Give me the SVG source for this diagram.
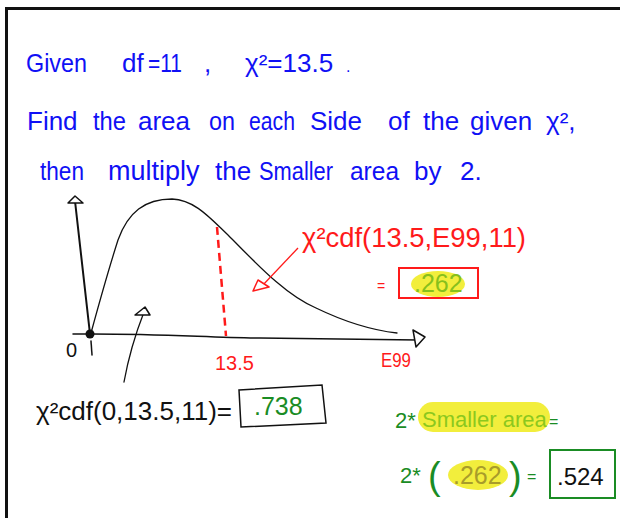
<svg xmlns="http://www.w3.org/2000/svg" width="620" height="518" viewBox="0 0 620 518">
<style>
text{font-family:"Liberation Sans","DejaVu Sans",sans-serif}
.b{fill:#1010f5;font-size:26px}
.r{fill:#ff1a1a}
.k{fill:#111}
.g{fill:#1a8c24}
.ln{fill:none;stroke:#111;stroke-linecap:round;stroke-linejoin:round}
.ah{fill:#fff;stroke:#111;stroke-width:1.5;stroke-linejoin:round}
</style>
<rect width="620" height="518" fill="#fff"/>
<path d="M6.5,518 V8.5 H620" fill="none" stroke="#111" stroke-width="3"/>

<g id="line1">
<text class="b" x="26" y="72" textLength="61" lengthAdjust="spacingAndGlyphs">Given</text>
<text class="b" x="122" y="72">df</text>
<text class="b" x="148" y="72" textLength="34" lengthAdjust="spacingAndGlyphs">=11</text>
<text class="b" x="204" y="72">,</text>
<text class="b" x="245" y="72">χ²=13.5</text>
<text class="b" x="346" y="72" style="font-size:16px">.</text>
</g>
<g id="line2">
<text class="b" x="27" y="130">Find</text>
<text class="b" x="93" y="130" textLength="33" lengthAdjust="spacingAndGlyphs">the</text>
<text class="b" x="138" y="130">area</text>
<text class="b" x="209" y="130" textLength="26" lengthAdjust="spacingAndGlyphs">on</text>
<text class="b" x="249" y="130" textLength="46" lengthAdjust="spacingAndGlyphs">each</text>
<text class="b" x="310" y="130">Side</text>
<text class="b" x="388" y="130">of</text>
<text class="b" x="423" y="130">the</text>
<text class="b" x="470" y="130">given</text>
<text class="b" x="546" y="130">χ²,</text>
</g>
<g id="line3">
<text class="b" x="40" y="180" textLength="44" lengthAdjust="spacingAndGlyphs">then</text>
<text class="b" x="108" y="180" style="font-size:27px">multiply</text>
<text class="b" x="215" y="180">the</text>
<text class="b" x="259" y="180" textLength="74" lengthAdjust="spacingAndGlyphs">Smaller</text>
<text class="b" x="350" y="180" textLength="49" lengthAdjust="spacingAndGlyphs">area</text>
<text class="b" x="414" y="180">by</text>
<text class="b" x="460" y="180">2.</text>
</g>

<g id="graph">
<path class="ln" stroke-width="2" d="M90,334 L75,201"/>
<polygon class="ah" points="68,203 75,196 83,203"/>
<path class="ln" stroke-width="1.5" d="M73,334 C150,333 200,337 260,338 C330,339 380,340 418,340"/>
<polygon class="ah" points="413,330 425,337 416,347"/>
<path class="ln" stroke-width="1.3" d="M91,333 C100,300 110,265 118,240 C128,212 145,199 172,199 C195,200 210,218 228,235 C255,262 285,295 316,308 C345,322 370,330 397,333"/>
<circle cx="90" cy="334" r="4.5" fill="#111"/>
<text class="k" x="66" y="357" style="font-size:20px">0</text>
<path class="ln" stroke-width="1.5" d="M91,341 L92,355"/>
<path d="M217,227 L226,336" stroke="#ff1a1a" stroke-width="2.5" stroke-dasharray="8 5" fill="none"/>
<text class="r" x="215" y="370" style="font-size:20px">13.5</text>
<text class="r" x="381" y="367" style="font-size:20px" textLength="30" lengthAdjust="spacingAndGlyphs">E99</text>
</g>

<g id="right-area">
<text class="r" x="302" y="247" style="font-size:28px" textLength="224" lengthAdjust="spacingAndGlyphs">χ²cdf(13.5,E99,11)</text>
<text class="r" x="377" y="291" style="font-size:14px">=</text>
<ellipse cx="438" cy="284" rx="27" ry="13" fill="#f2ee3c"/>
<rect x="399" y="268" width="79" height="30" fill="none" stroke="#ff1a1a" stroke-width="2"/>
<text x="414" y="292" style="font-size:25px;fill:#86c01c">.262</text>
</g>

<g id="left-area">
<text class="k" x="36" y="420" style="font-size:26px">χ²cdf(0,13.5,11)=</text>
<polygon points="239,390 322,385 326,423 241,427" fill="none" stroke="#111" stroke-width="1.5"/>
<text class="g" x="254" y="415" style="font-size:25px">.738</text>
</g>

<g id="result">
<rect x="418" y="402" width="132" height="30" rx="15" fill="#f2ee3c"/>
<text class="g" x="395" y="428" style="font-size:22px">2*</text>
<text x="422" y="427" style="font-size:22px;fill:#8cc81e">Smaller area</text>
<text class="g" x="549" y="427" style="font-size:16px">=</text>
<ellipse cx="478" cy="475" rx="30" ry="15" fill="#f2ee3c"/>
<text class="g" x="400" y="483" style="font-size:22px">2*</text>
<text class="g" x="428" y="489" style="font-size:38px">(</text>
<text x="453" y="484" style="font-size:25px;fill:#a89c2a">.262</text>
<text class="g" x="509" y="489" style="font-size:38px">)</text>
<text class="g" x="527" y="482" style="font-size:16px">=</text>
<rect x="550" y="450" width="65" height="48" fill="none" stroke="#1a8c24" stroke-width="2"/>
<text class="k" x="557" y="485" style="font-size:24px">.524</text>
</g>

<g id="connectors">
<path d="M298,248 L262,286" stroke="#ff1a1a" stroke-width="1.3" fill="none"/>
<polygon points="253,291 258,280 269,287" fill="#fff" stroke="#ff1a1a" stroke-width="1.5" stroke-linejoin="round"/>
<path class="ln" stroke-width="1.3" d="M124,382 C128,360 135,335 144,312"/>
<polygon class="ah" points="135,315 145,307 150,315"/>
</g>
</svg>
